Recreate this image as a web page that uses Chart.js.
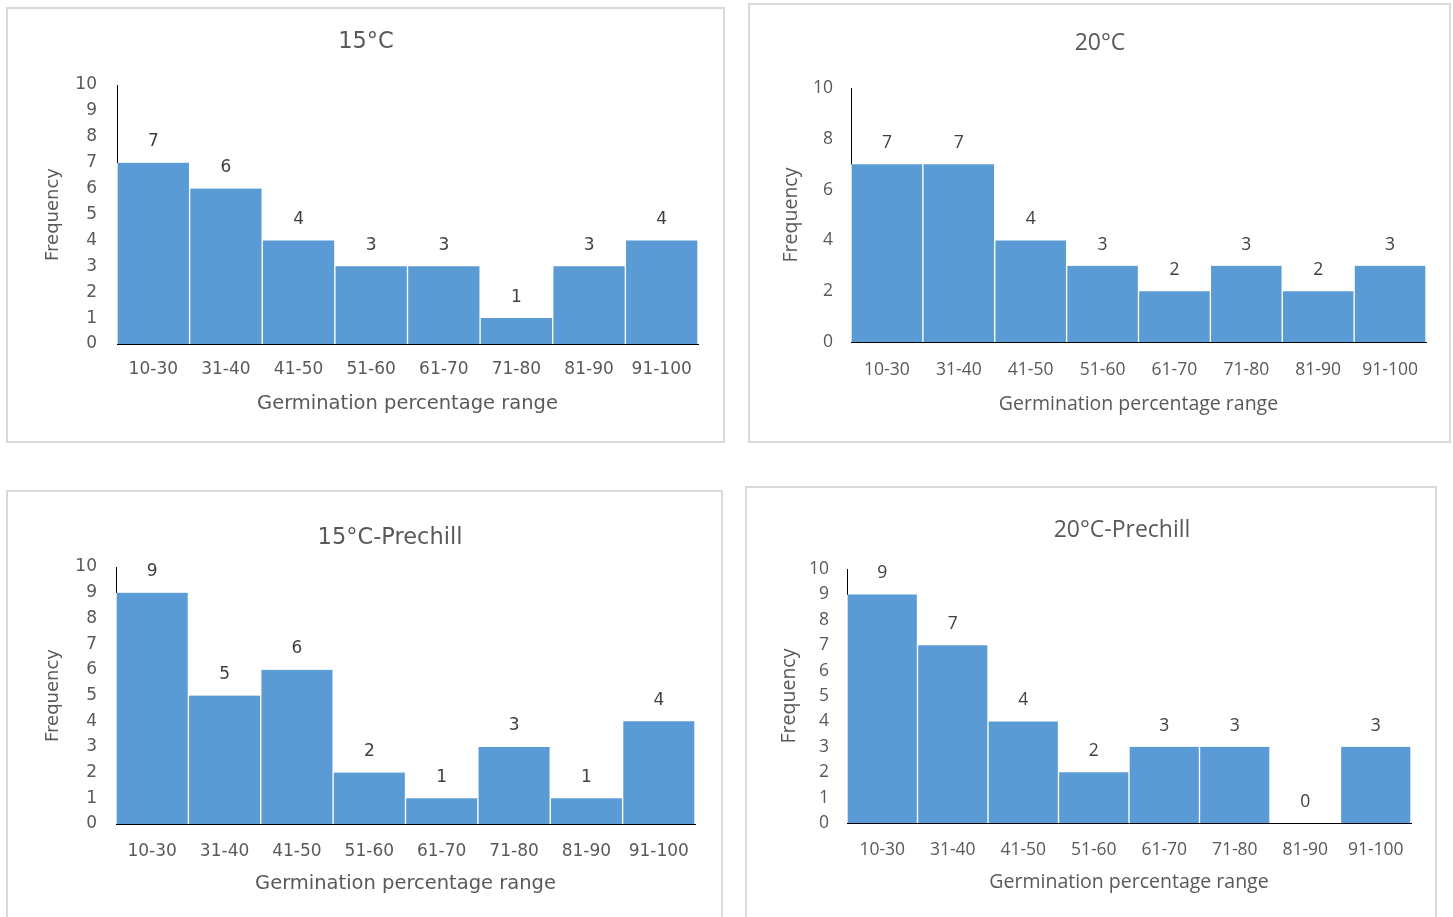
<!DOCTYPE html>
<html>
<head>
<meta charset="utf-8">
<script src="https://cdn.jsdelivr.net/npm/chart.js@4.4.1/dist/chart.umd.min.js"></script>
<style>
  html, body { margin: 0; padding: 0; background: #ffffff; width: 1453px; height: 917px; overflow: hidden; }
  #page { position: relative; width: 1453px; height: 917px; overflow: hidden; }
  .frame { position: absolute; box-sizing: border-box; border: 2px solid #d9d9d9; background: #fff; }
  canvas { position: absolute; }
</style>
</head>
<body>
<div id="page"></div>
<script>
// ---------------- DATA ----------------
const categories = ['10-30', '31-40', '41-50', '51-60', '61-70', '71-80', '81-90', '91-100'];
const freq15C = [7, 6, 4, 3, 3, 1, 3, 4];
const freq20C = [7, 7, 4, 3, 2, 3, 2, 3];
const freq15CPrechill = [9, 5, 6, 2, 1, 3, 1, 4];
const freq20CPrechill = [9, 7, 4, 2, 3, 3, 0, 3];
const yTicksStep1 = [0, 1, 2, 3, 4, 5, 6, 7, 8, 9, 10];
const yTicksStep2 = [0, 2, 4, 6, 8, 10];
const titles = ['15°C', '20°C', '15°C-Prechill', '20°C-Prechill'];
const xAxisTitle = 'Germination percentage range';
const yAxisTitle = 'Frequency';

// ---------------- LAYOUT / STYLE ----------------
const PAGE_H = 917;
const BAR_COLOR = '#5B9BD5';
const TEXT_COLOR = '#595959';
const LABEL_COLOR = '#404040';
const WIDE = { family: "'DejaVu Sans', Verdana, sans-serif", title: 22.5, tick: 17, yTitle: 18, xTitle: 19.5, label: 17 };
const HUMAN = { family: "'Open Sans', sans-serif", title: 23, tick: 17.5, yTitle: 19.5, xTitle: 19.5, label: 17.5 };

const panels = [
  { title: titles[0], data: freq15C, ticks: yTicksStep1, font: WIDE,
    box: [6, 7, 725, 443], plot: [117, 85, 698, 344], titlePos: [366, 42],
    yTitleCx: 53, yTickRight: 97, xTickCy: 370, xTitleCy: 404 },
  { title: titles[1], data: freq20C, ticks: yTicksStep2, font: HUMAN,
    box: [748, 3, 1451, 443], plot: [851, 88, 1426, 342], titlePos: [1100, 43],
    yTitleCx: 791, yTickRight: 833, xTickCy: 370, xTitleCy: 404 },
  { title: titles[2], data: freq15CPrechill, ticks: yTicksStep1, font: WIDE,
    box: [6, 490, 723, 935], plot: [116, 567, 695, 824], titlePos: [390, 538],
    yTitleCx: 53, yTickRight: 97, xTickCy: 852, xTitleCy: 884 },
  { title: titles[3], data: freq20CPrechill, ticks: yTicksStep1, font: HUMAN,
    box: [745, 486, 1437, 935], plot: [847, 569, 1411, 823], titlePos: [1122, 530],
    yTitleCx: 789, yTickRight: 829, xTickCy: 850, xTitleCy: 882 }
];

// plugin: chart title and axis titles drawn as text at fixed places
const panelTextPlugin = {
  id: 'panelText',
  afterDraw(chart, args, opts) {
    const ctx = chart.ctx;
    const ca = chart.chartArea;
    ctx.save();
    ctx.fillStyle = opts.color;
    ctx.textAlign = 'center';
    ctx.textBaseline = 'middle';
    // chart title
    ctx.font = opts.titleFont;
    ctx.fillText(opts.title, opts.titleX, opts.titleY);
    // x axis title
    ctx.font = opts.xTitleFont;
    ctx.fillText(opts.xTitle, (ca.left + ca.right) / 2, opts.xTitleY);
    // y axis title
    ctx.font = opts.yTitleFont;
    ctx.translate(opts.yTitleX, (ca.top + ca.bottom) / 2);
    ctx.rotate(-Math.PI / 2);
    ctx.fillText(opts.yTitle, 0, 0);
    ctx.restore();
  }
};

// plugin: value labels above bars
const valueLabelPlugin = {
  id: 'valueLabels',
  afterDatasetsDraw(chart, args, opts) {
    const ctx = chart.ctx;
    ctx.save();
    ctx.font = opts.font;
    ctx.fillStyle = opts.color;
    ctx.textAlign = 'center';
    ctx.textBaseline = 'middle';
    chart.data.datasets.forEach((ds, di) => {
      chart.getDatasetMeta(di).data.forEach((bar, i) => {
        ctx.fillText(String(ds.data[i]), bar.x, bar.y - opts.offset);
      });
    });
    ctx.restore();
  }
};

const page = document.getElementById('page');

panels.forEach((p) => {
  const [bl, bt, br, bb] = p.box;
  const [pl, pt, pr, pb] = p.plot;
  const f = p.font;

  const frame = document.createElement('div');
  frame.className = 'frame';
  frame.style.left = bl + 'px';
  frame.style.top = bt + 'px';
  frame.style.width = (br - bl) + 'px';
  frame.style.height = (bb - bt) + 'px';
  page.appendChild(frame);

  const cw = br - bl;
  const ch = Math.min(bb, PAGE_H) - bt;
  const canvas = document.createElement('canvas');
  canvas.width = cw;
  canvas.height = ch;
  canvas.style.left = bl + 'px';
  canvas.style.top = bt + 'px';
  canvas.style.width = cw + 'px';
  canvas.style.height = ch + 'px';
  page.appendChild(canvas);

  const yScaleWidth = 40;
  const xScaleHeight = 40;
  const padding = {
    left: pl - bl - yScaleWidth,
    top: pt - bt,
    right: br - pr,
    bottom: (bt + ch) - pb - xScaleHeight
  };
  const xTickPad = p.xTickCy - pb - (f.tick * 1.2) / 2;
  const yTickPad = pl - p.yTickRight;

  new Chart(canvas, {
    type: 'bar',
    data: {
      labels: categories,
      datasets: [{
        data: p.data,
        backgroundColor: BAR_COLOR,
        borderColor: '#ffffff',
        borderWidth: { left: 1, right: 1, top: 0, bottom: 0 },
        borderSkipped: 'start',
        categoryPercentage: 1.0,
        barPercentage: 1.0
      }]
    },
    options: {
      responsive: false,
      animation: false,
      devicePixelRatio: 1,
      layout: { padding },
      plugins: {
        legend: { display: false },
        title: { display: false },
        tooltip: { enabled: false },
        panelText: {
          color: TEXT_COLOR,
          title: p.title,
          titleX: p.titlePos[0] - bl,
          titleY: p.titlePos[1] - bt,
          titleFont: `${f.title}px ${f.family}`,
          xTitle: xAxisTitle,
          xTitleY: p.xTitleCy - bt,
          xTitleFont: `${f.xTitle}px ${f.family}`,
          yTitle: yAxisTitle,
          yTitleX: p.yTitleCx - bl,
          yTitleFont: `${f.yTitle}px ${f.family}`
        },
        valueLabels: {
          font: `${f.label}px ${f.family}`,
          color: LABEL_COLOR,
          offset: 21
        }
      },
      scales: {
        x: {
          grid: { display: false, drawTicks: false },
          border: { display: true, color: '#000000', width: 1 },
          ticks: {
            color: TEXT_COLOR,
            padding: xTickPad,
            maxRotation: 0,
            autoSkip: false,
            font: { family: f.family, size: f.tick }
          },
          afterFit(scale) { scale.height = xScaleHeight; }
        },
        y: {
          min: 0,
          max: 10,
          grid: { display: false, drawTicks: false },
          border: { display: true, color: '#000000', width: 1 },
          afterBuildTicks(scale) { scale.ticks = p.ticks.map(v => ({ value: v })); },
          ticks: {
            color: TEXT_COLOR,
            padding: yTickPad,
            font: { family: f.family, size: f.tick }
          },
          afterFit(scale) { scale.width = yScaleWidth; }
        }
      }
    },
    plugins: [panelTextPlugin, valueLabelPlugin]
  });
});
</script>
</body>
</html>
